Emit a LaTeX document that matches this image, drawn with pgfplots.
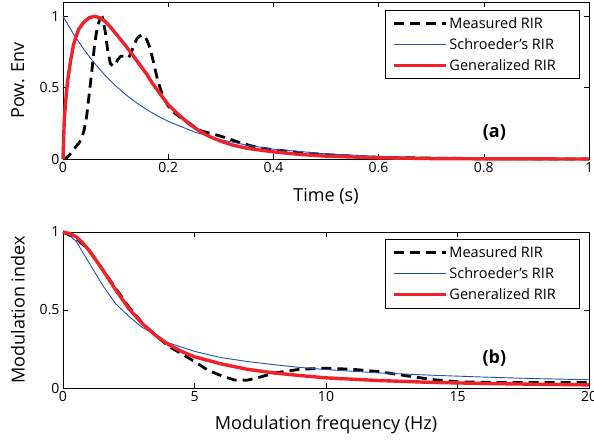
\documentclass[border=0pt]{standalone}
\usepackage{pgfplots}
\pgfplotsset{compat=1.18}
\usepackage{fontspec}
\setmainfont{Open Sans}
\definecolor{schblue}{RGB}{35,80,180}
\definecolor{genred}{RGB}{238,34,40}
\pgfplotsset{
  myaxis/.style={
    scale only axis, width=526bp, clip=false,
    font=\fontsize{14bp}{16bp}\selectfont,
    /pgf/number format/assume math mode=true,
    tick align=inside, major tick length=5bp,
    axis line style={line width=0.8bp},
    every tick/.style={black, line width=0.6bp},
    tick label style={font=\fontsize{14bp}{16bp}\selectfont},
    label style={font=\fontsize{18bp}{20bp}\selectfont},
    ylabel style={at={(axis description cs:-0.086,0.5)}, anchor=center},
    xlabel style={at={(axis description cs:0.5,-0.235)}, anchor=center},
    legend style={draw=black, line width=0.6bp, fill=white,
      font=\fontsize{14.5bp}{16bp}\selectfont, row sep=4.5bp,
      inner xsep=7bp, inner ysep=5bp},
    legend cell align=left,
    legend image code/.code={\draw[##1] (0bp,0bp) -- (52bp,0bp);},
  },
  meas/.style={black, line width=2.8bp, dash pattern=on 10bp off 6bp},
  schr/.style={schblue, line width=0.9bp},
  gen/.style={genred, line width=3.4bp},
}
\begin{document}
\begin{tikzpicture}
\useasboundingbox (0,0) rectangle (594bp,444bp);
\begin{axis}[myaxis, at={(63bp,285bp)}, anchor=south west, height=157bp,
  xmin=0, xmax=1, ymin=0, ymax=1.1,
  xtick={0,0.2,0.4,0.6,0.8,1}, xticklabels={0,0.2,0.4,0.6,0.8,1},
  ytick={0,0.5,1}, yticklabels={0,0.5,1},
  xlabel={Time (s)}, ylabel={Pow. Env},
  legend style={at={(rel axis cs:0.983,0.949)}, anchor=north east}]
\addplot[meas] coordinates {
(0,0) (0.005,0.005) (0.01,0.02) (0.02,0.06) (0.025,0.09) (0.03,0.11) (0.035,0.14)
(0.04,0.2) (0.045,0.3) (0.05,0.46) (0.055,0.62) (0.06,0.8) (0.065,0.92) (0.07,0.98)
(0.075,0.99) (0.08,0.9) (0.085,0.76) (0.09,0.67) (0.095,0.65) (0.1,0.67) (0.105,0.7)
(0.11,0.72) (0.115,0.72) (0.12,0.71) (0.125,0.71) (0.13,0.75) (0.135,0.8) (0.14,0.84)
(0.145,0.86) (0.15,0.87) (0.155,0.86) (0.16,0.83) (0.165,0.78) (0.17,0.71) (0.175,0.63)
(0.18,0.55) (0.19,0.44) (0.2,0.37) (0.21,0.33) (0.22,0.3) (0.24,0.25) (0.26,0.2)
(0.28,0.18) (0.3,0.16) (0.32,0.135) (0.34,0.11) (0.36,0.09) (0.38,0.075) (0.4,0.065)
(0.45,0.045) (0.5,0.03) (0.55,0.02) (0.6,0.012) (0.7,0.006) (0.8,0.003) (0.9,0.001) (1,0)};
\addlegendentry{Measured RIR}
\addplot[schr] coordinates {
(0,1) (0.02,0.875) (0.04,0.766) (0.06,0.670) (0.08,0.587) (0.1,0.513) (0.12,0.449)
(0.14,0.393) (0.16,0.344) (0.18,0.301) (0.2,0.264) (0.25,0.189) (0.3,0.135) (0.35,0.097)
(0.4,0.069) (0.5,0.036) (0.6,0.018) (0.7,0.0094) (0.8,0.0048) (0.9,0.0025) (1,0.0013)};
\addlegendentry{Schroeder's RIR}
\addplot[gen] coordinates {
(0,0) (0.0025,0.28) (0.005,0.4) (0.0075,0.5) (0.01,0.58) (0.015,0.7) (0.02,0.8)
(0.025,0.86) (0.03,0.91) (0.04,0.96) (0.05,0.99) (0.06,1.0) (0.07,0.99) (0.08,0.965)
(0.09,0.925) (0.1,0.88) (0.11,0.835) (0.12,0.79) (0.13,0.74) (0.14,0.69) (0.15,0.64)
(0.16,0.59) (0.17,0.53) (0.18,0.48) (0.19,0.43) (0.2,0.38) (0.22,0.31) (0.24,0.245)
(0.26,0.195) (0.28,0.155) (0.3,0.125) (0.32,0.1) (0.35,0.075) (0.4,0.05) (0.45,0.032)
(0.5,0.02) (0.6,0.008) (0.7,0.003) (0.8,0.001) (1,0)};
\addlegendentry{Generalized RIR\rule{15bp}{0pt}}
\node[font=\bfseries\fontsize{18bp}{20bp}\selectfont] at (rel axis cs:0.82,0.17) {(a)};
\end{axis}
\begin{axis}[myaxis, at={(63bp,56bp)}, anchor=south west, height=156bp,
  xmin=0, xmax=20, ymin=0, ymax=1,
  xtick={0,5,10,15,20}, ytick={0,0.5,1}, yticklabels={0,0.5,1},
  xlabel={Modulation frequency (Hz)}, ylabel={Modulation index},
  legend style={at={(rel axis cs:0.983,0.955)}, anchor=north east}]
\addplot[meas] coordinates {
(0,1) (0.5,0.96) (1,0.88) (1.5,0.76) (2,0.64) (2.5,0.52) (3,0.42) (3.5,0.34) (4,0.27)
(4.5,0.22) (5,0.17) (5.5,0.115) (6,0.08) (6.5,0.052) (7,0.05) (7.5,0.07) (8,0.095)
(9,0.12) (10,0.127) (11,0.12) (12,0.105) (13,0.08) (14,0.055) (15,0.04) (16,0.036)
(18,0.035) (20,0.035)};
\addlegendentry{Measured RIR}
\addplot[schr] coordinates {
(0,1) (0.25,0.98) (0.5,0.94) (0.75,0.87) (1,0.8) (1.5,0.66) (2,0.54) (2.5,0.46)
(3,0.39) (3.5,0.34) (4,0.29) (5,0.235) (6,0.195) (7,0.17) (8,0.15) (9,0.132)
(10,0.118) (12,0.097) (14,0.082) (16,0.07) (18,0.06) (20,0.053)};
\addlegendentry{Schroeder's RIR}
\addplot[gen] coordinates {
(0,1) (0.25,0.99) (0.5,0.97) (0.75,0.93) (1,0.88) (1.5,0.76) (2,0.63) (2.5,0.51)
(3,0.415) (3.5,0.34) (4,0.28) (4.5,0.235) (5,0.2) (6,0.155) (7,0.12) (8,0.097)
(9,0.08) (10,0.065) (12,0.048) (14,0.036) (16,0.029) (18,0.024) (20,0.02)};
\addlegendentry{Generalized RIR\rule{15bp}{0pt}}
\node[font=\bfseries\fontsize{18bp}{20bp}\selectfont] at (rel axis cs:0.82,0.19) {(b)};
\end{axis}
\end{tikzpicture}
\end{document}
